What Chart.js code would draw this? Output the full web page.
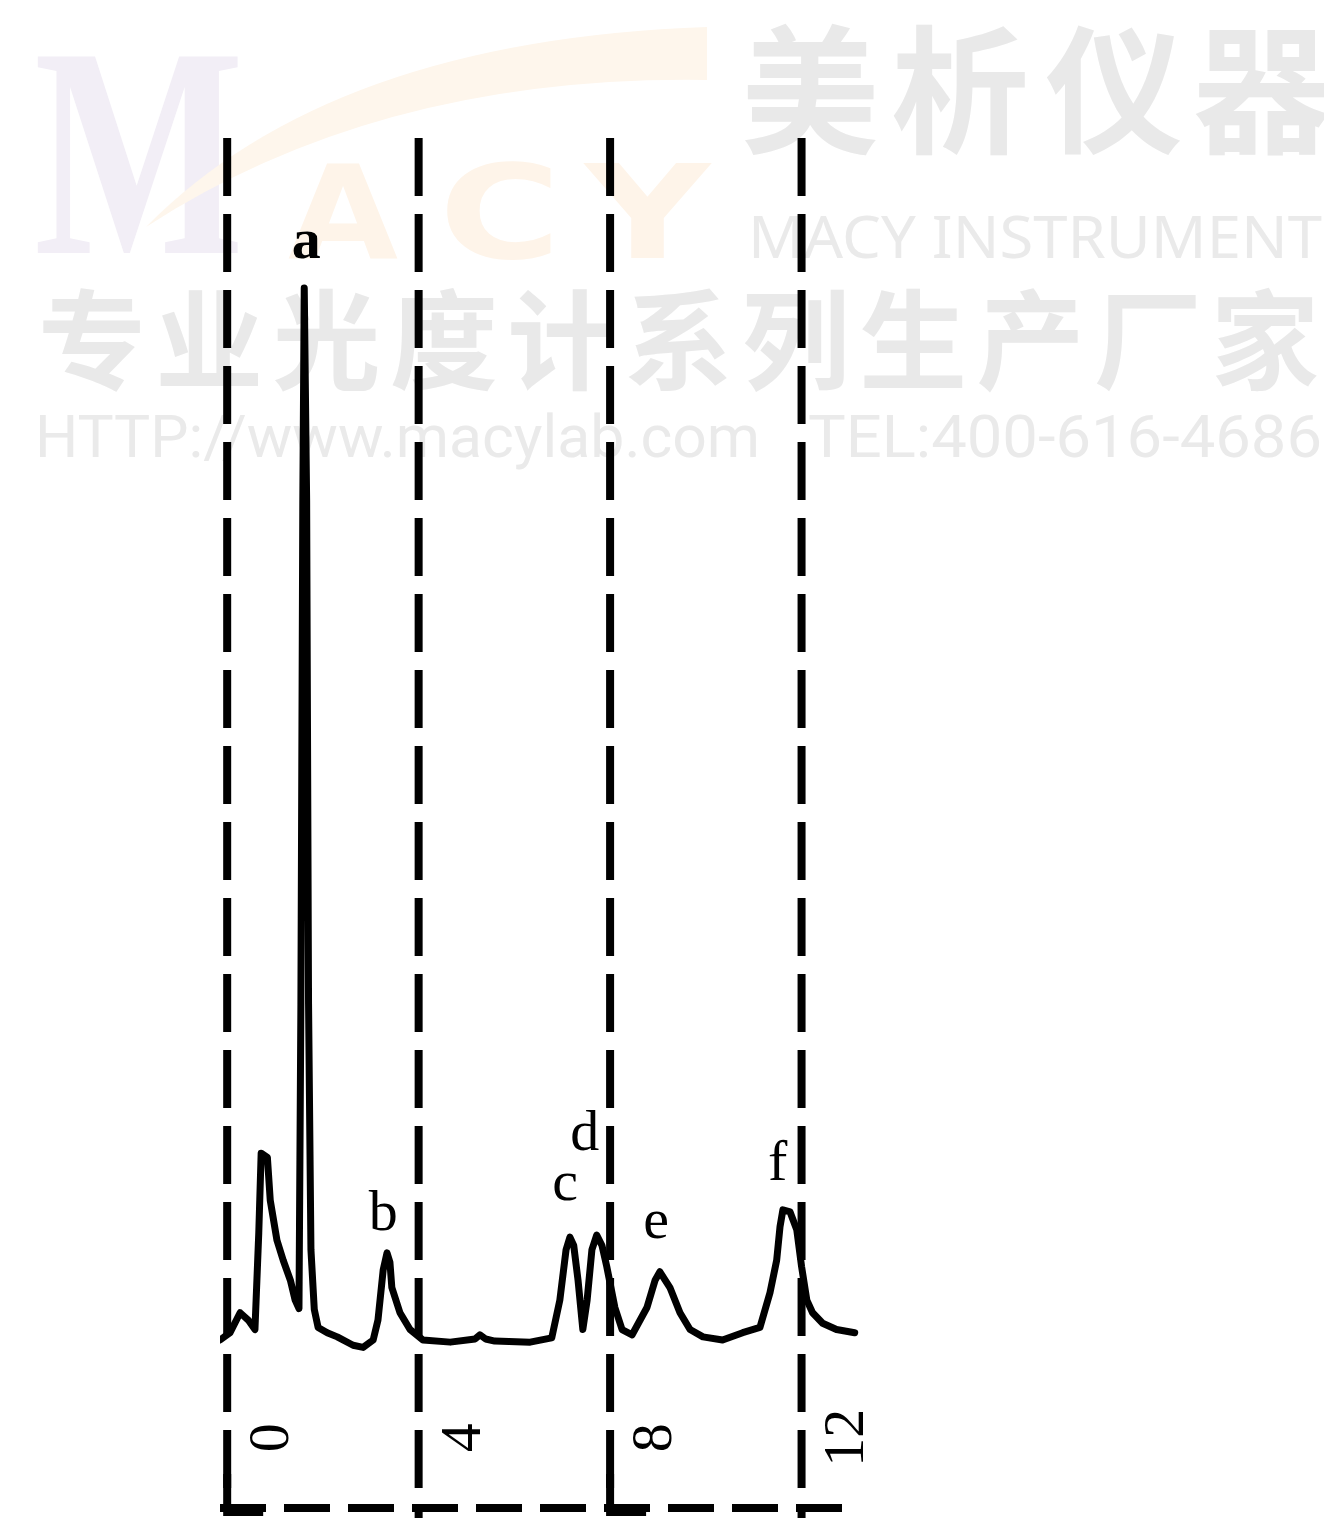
<!DOCTYPE html>
<html>
<head>
<meta charset="utf-8">
<script src="https://cdn.jsdelivr.net/npm/chart.js@4/dist/chart.umd.min.js"></script>
<style>
html,body{margin:0;padding:0;background:#fff;}
#wrap{width:1324px;height:1519px;position:relative;}
</style>
</head>
<body>
<div id="wrap"><canvas id="c" width="1324" height="1519"></canvas></div>
<script>
// ---- data (retention time, min / detector signal, % of peak a) ----
const timeMin = [-0.15,0.06,0.27,0.44,0.58,0.66,0.71,0.84,0.90,1.04,1.17,1.32,1.42,1.50,1.54,1.58,1.61,1.66,1.70,1.75,1.82,1.90,2.09,2.30,2.63,2.84,3.05,3.15,3.26,3.34,3.40,3.44,3.61,3.82,4.09,4.66,5.18,5.28,5.40,5.59,6.33,6.78,6.95,7.08,7.16,7.24,7.33,7.43,7.52,7.62,7.72,7.83,7.93,8.10,8.25,8.46,8.77,8.94,9.04,9.25,9.46,9.67,9.94,10.35,10.77,11.13,11.34,11.48,11.55,11.61,11.76,11.90,12.00,12.11,12.23,12.44,12.73,13.11];
const signal  = [0,0.7,2.6,1.9,1.0,10.2,17.8,17.4,13.3,9.5,7.6,5.7,3.8,3.0,32,80,100.2,80,32,8.6,2.9,1.2,0.7,0.3,-0.5,-0.7,0,1.9,6.7,8.3,7.4,5.0,2.6,1.0,0,-0.2,0.1,0.5,0.1,-0.1,-0.2,0.2,3.8,8.6,9.8,9.0,5.7,1.0,3.8,8.6,10.0,9.0,7.0,3.1,1.0,0.5,3.1,5.7,6.5,5.0,2.6,1.0,0.3,0,0.7,1.2,4.5,7.6,10.8,12.4,12.2,10.5,7.0,3.8,2.6,1.6,1.0,0.7];
const peakNames = ['a','b','c','d','e','f'];
const peakLabelTime = [1.65,3.26,7.06,7.47,8.96,11.50];
const peakLabelSignal = [103.1,10.5,13.3,18.1,9.7,15.2];
const tickValues = [0,4,8,12];
const tickLabels = ['0','4','8','12'];

const points = timeMin.map((t,i)=>({x:t,y:signal[i]}));

function fitText(ctx, text, x, y, w, font, color){
  ctx.save();
  ctx.font = font;
  ctx.textAlign = 'left';
  ctx.textBaseline = 'alphabetic';
  const m = ctx.measureText(text).width;
  ctx.translate(x, y);
  ctx.scale(w/m, 1);
  ctx.fillStyle = color;
  ctx.fillText(text, 0, 0);
  ctx.restore();
}

const watermark = {
  id:'watermark',
  beforeDraw(chart){
    const ctx = chart.ctx;
    ctx.save();
    ctx.fillStyle = '#ffffff';
    ctx.fillRect(0,0,chart.width,chart.height);
    // big M
    fitText(ctx,'M',34,253,210,'bold 300px "Liberation Serif"','#f2eef6');
    // swoosh
    ctx.beginPath();
    ctx.moveTo(146,227);
    ctx.quadraticCurveTo(330,40,707,27);
    ctx.lineTo(707,80);
    ctx.quadraticCurveTo(380,75,146,227);
    ctx.fillStyle = '#fef6ec';
    ctx.fill();
    // A C Y
    fitText(ctx,'A',288,258,110,'bold 130px "DejaVu Sans"','#fef4e9');
    fitText(ctx,'C',439,258,122,'bold 130px "DejaVu Sans"','#fef4e9');
    fitText(ctx,'Y',585,258,125,'bold 130px "DejaVu Sans"','#fef4e9');
    // 美析仪器
    ctx.font = 'bold 138px "Noto Sans CJK SC"';
    ctx.fillStyle = '#e9e9e9';
    ctx.textAlign = 'center';
    ctx.textBaseline = 'middle';
    const big = ['美','析','仪','器'];
    const bigX = [810,960,1114,1262];
    big.forEach((ch,i)=>ctx.fillText(ch,bigX[i],90));
    fitText(ctx,'MACY INSTRUMENT',748,258,574,'58px "Noto Sans"','#eaeaea');
    // 专业光度计系列生产厂家
    ctx.font = 'bold 108px "Noto Sans CJK SC"';
    ctx.fillStyle = '#e9e9e9';
    ctx.textAlign = 'center';
    ctx.textBaseline = 'middle';
    const line2 = '专业光度计系列生产厂家'.split('');
    line2.forEach((ch,i)=>ctx.fillText(ch,92+i*117.3,340));
    fitText(ctx,'HTTP://www.macylab.com',35,457,725,'60px Roboto','#eaeaea');
    fitText(ctx,'TEL:400-616-4686',808,457,514,'60px Roboto','#eaeaea');
    ctx.restore();
  }
};

const frame = {
  id:'frame',
  beforeDatasetsDraw(chart){
    const ctx = chart.ctx, xs = chart.scales.x, a = chart.chartArea;
    ctx.save();
    ctx.strokeStyle = '#000';
    ctx.lineWidth = 8;
    ctx.lineCap = 'butt';
    // vertical dashed markers
    ctx.setLineDash([58,18]);
    tickValues.forEach(v=>{
      const px = xs.getPixelForValue(v);
      ctx.beginPath();
      ctx.moveTo(px, a.top);
      ctx.lineTo(px, a.bottom + (v % 8 === 0 ? 0 : 10));
      ctx.stroke();
    });
    // bottom dashed line
    ctx.setLineDash([46,18]);
    ctx.beginPath();
    ctx.moveTo(a.left, a.bottom);
    ctx.lineTo(a.right, a.bottom);
    ctx.stroke();
    // L corners
    ctx.setLineDash([]);
    [0,8].forEach(v=>{
      const px = xs.getPixelForValue(v);
      ctx.beginPath();
      ctx.moveTo(px, a.bottom-34);
      ctx.lineTo(px, a.bottom+4);
      ctx.lineTo(px+36, a.bottom+4);
      ctx.stroke();
    });
    ctx.restore();
  },
  afterDatasetsDraw(chart){
    const ctx = chart.ctx, xs = chart.scales.x, ys = chart.scales.y;
    ctx.save();
    ctx.fillStyle = '#000';
    // peak labels
    ctx.textAlign = 'center';
    ctx.textBaseline = 'alphabetic';
    peakNames.forEach((n,i)=>{
      ctx.font = (n==='a'?'bold ':'') + '58px "Liberation Serif"';
      ctx.fillText(n, xs.getPixelForValue(peakLabelTime[i]), ys.getPixelForValue(peakLabelSignal[i]));
    });
    // tick labels, rotated
    ctx.font = '58px "Liberation Serif"';
    ctx.textBaseline = 'middle';
    tickValues.forEach((v,i)=>{
      const px = xs.getPixelForValue(v) + 44;
      const py = ys.getPixelForValue(-9.3);
      ctx.save();
      ctx.translate(px, py);
      ctx.rotate(-Math.PI/2);
      ctx.fillText(tickLabels[i], 0, 2);
      ctx.restore();
    });
    ctx.restore();
  }
};

new Chart(document.getElementById('c'), {
  type:'line',
  data:{datasets:[{
    data: points,
    borderColor:'#000',
    borderWidth:7,
    pointRadius:0,
    tension:0,
    fill:false,
    borderJoinStyle:'round',
    borderCapStyle:'round'
  }]},
  options:{
    responsive:false,
    animation:false,
    devicePixelRatio:1,
    layout:{padding:{left:220,right:465,top:138,bottom:11}},
    plugins:{legend:{display:false},tooltip:{enabled:false}},
    scales:{
      x:{type:'linear',min:-0.15,max:13.2,display:false},
      y:{min:-16,max:114.5,display:false}
    }
  },
  plugins:[watermark, frame]
});
</script>
</body>
</html>
